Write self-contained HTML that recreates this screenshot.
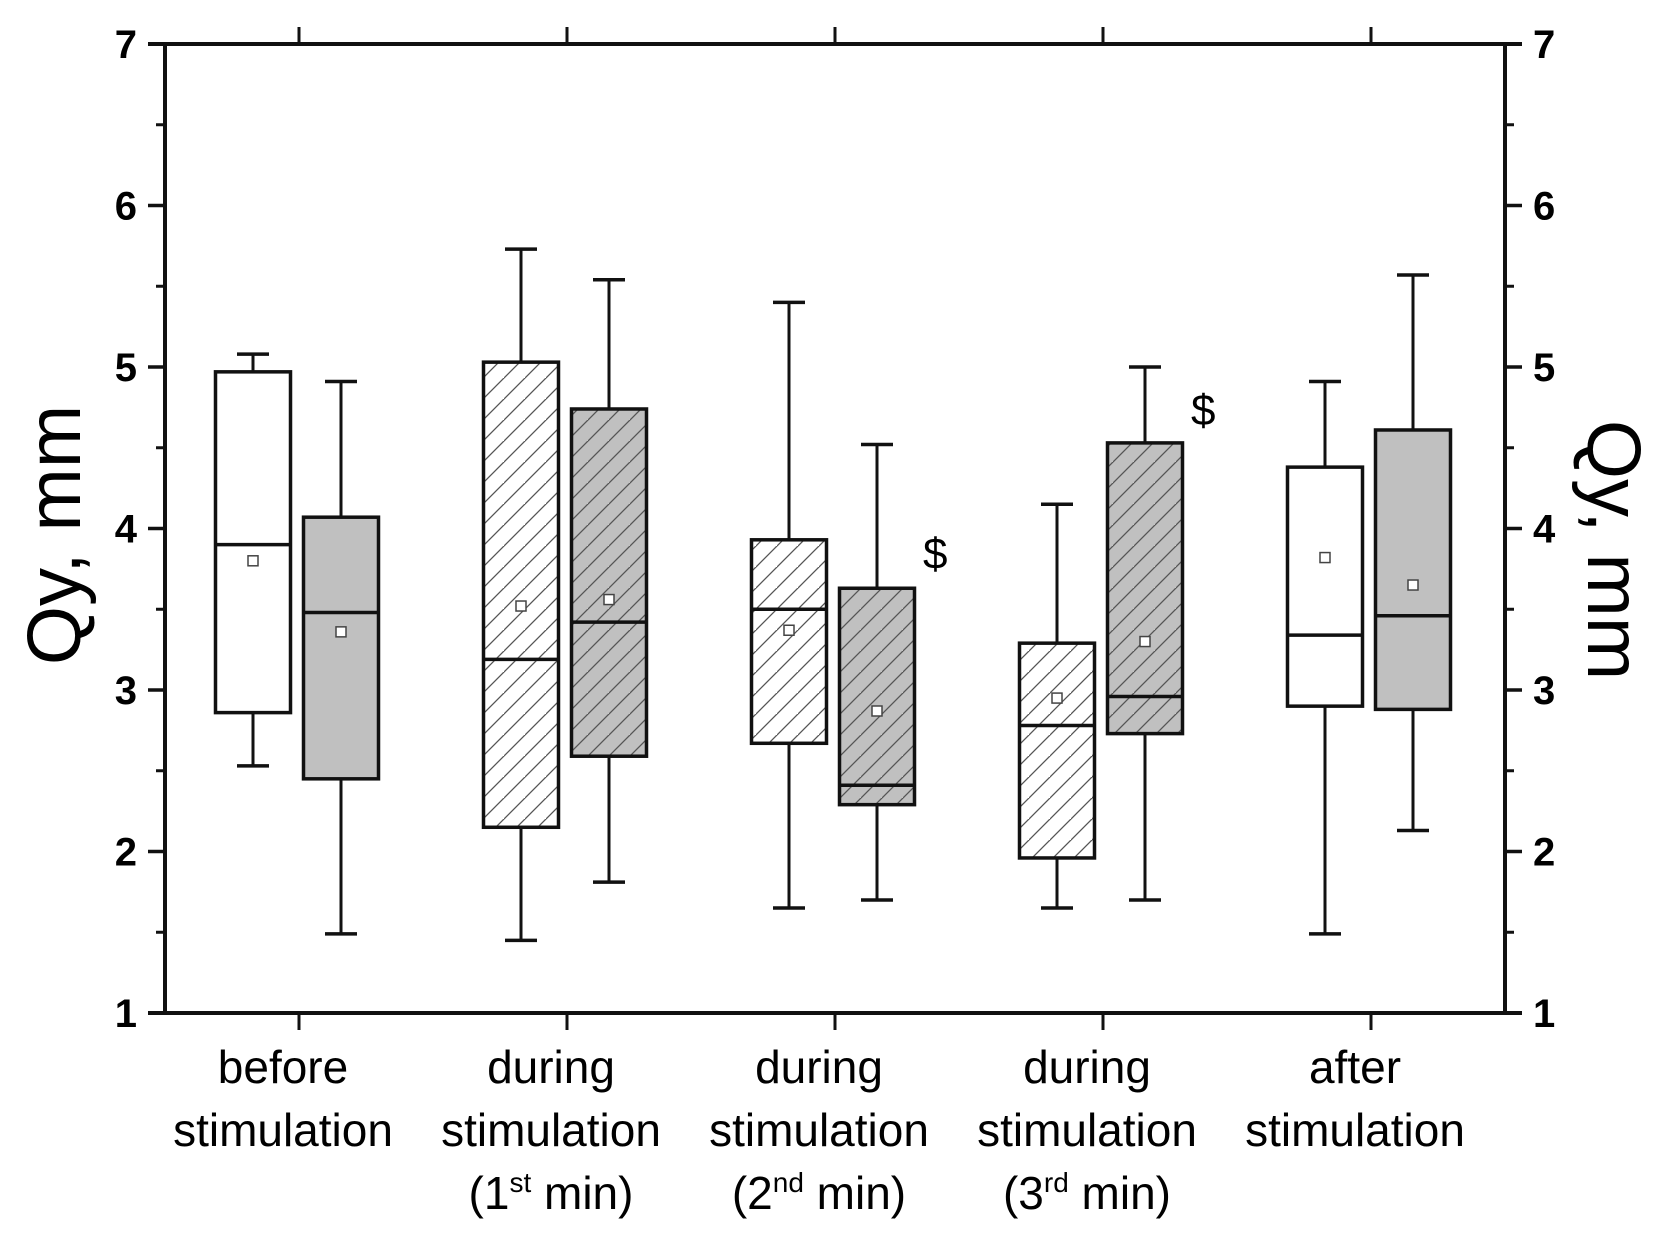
<!DOCTYPE html>
<html><head><meta charset="utf-8"><style>
html,body{margin:0;padding:0;background:#fff;}
svg{display:block;font-family:"Liberation Sans",sans-serif;}
</style></head><body>
<svg id="chart" width="1653" height="1241" viewBox="0 0 1653 1241">
<defs>
<pattern id="hatch" patternUnits="userSpaceOnUse" width="21" height="21">
<path d="M-2,23 L23,-2 M-12,12 L12,-12 M10,33 L33,10" stroke="#555" stroke-width="1.3"/>
</pattern>
</defs>
<g id="axes"></g>
<g id="marks"></g>
<text x="0" y="0" transform="translate(80,535) rotate(-90)" text-anchor="middle" font-size="76">Qy, mm</text>
<text x="0" y="0" transform="translate(1588,550) rotate(90)" text-anchor="middle" font-size="76">Qy, mm</text>
</svg>
<script>
const categories = [["before","stimulation"],["during","stimulation","(1|st| min)"],["during","stimulation","(2|nd| min)"],["during","stimulation","(3|rd| min)"],["after","stimulation"]];
const whiskerHigh = [[5.08,4.91],[5.73,5.54],[5.40,4.52],[4.15,5.00],[4.91,5.57]];
const q3Values = [[4.97,4.07],[5.03,4.74],[3.93,3.63],[3.29,4.53],[4.38,4.61]];
const medianValues = [[3.90,3.48],[3.19,3.42],[3.50,2.41],[2.78,2.96],[3.34,3.46]];
const meanValues = [[3.80,3.36],[3.52,3.56],[3.37,2.87],[2.95,3.30],[3.82,3.65]];
const q1Values = [[2.86,2.45],[2.15,2.59],[2.67,2.29],[1.96,2.73],[2.90,2.88]];
const whiskerLow = [[2.53,1.49],[1.45,1.81],[1.65,1.70],[1.65,1.70],[1.49,2.13]];
const hatched = [false,true,true,true,false];
const dollarY = [[null,null],[null,null],[null,3.85],[null,4.74],[null,null]];
const yTicks = [1,2,3,4,5,6,7];

const NS="http://www.w3.org/2000/svg";
const L=165,R=1505,T=44,B=1013;
const y=v=>B-(v-1)*(B-T)/6;
const xc=i=>299+i*268;
const axes=document.getElementById('axes'), marks=document.getElementById('marks');
function el(tag,attrs,parent){const e=document.createElementNS(NS,tag);for(const k in attrs)e.setAttribute(k,attrs[k]);parent.appendChild(e);return e;}
function line(x1,y1,x2,y2,w,parent){return el('line',{x1,y1,x2,y2,stroke:'#111','stroke-width':w},parent);}

let f=line(L-17,T,R+17,T,4,axes);


f=line(L-17,B,R+17,B,4,axes);


f=line(L,T,L,B,4,axes);


f=line(R,T,R,B,4,axes);



yTicks.forEach(v=>{
  line(L-17,y(v),L,y(v),3.5,axes);line(R,y(v),R+17,y(v),3.5,axes);
  if(v<7){line(L-9,y(v+0.5),L,y(v+0.5),3,axes);line(R,y(v+0.5),R+9,y(v+0.5),3,axes);}
  let t=el('text',{x:L-28,y:y(v)+14,'text-anchor':'end','font-size':40,'font-weight':'bold'},axes);t.textContent=v;
  
  
  t=el('text',{x:R+28,y:y(v)+14,'text-anchor':'start','font-size':40,'font-weight':'bold'},axes);t.textContent=v;
  
  
});

categories.forEach((lines,i)=>{
  const cx=xc(i);
  line(cx,T-17,cx,T,3,axes);line(cx,B,cx,B+17,3,axes);
  const g=el('g',{},axes);
  
  
  lines.forEach((s,k)=>{
    const t=el('text',{x:cx-16,y:1083+k*63,'text-anchor':'middle','font-size':46},g);
    if(s.includes('|')){const p=s.split('|');t.appendChild(document.createTextNode(p[0]));
      const sp=el('tspan',{'font-size':28,dy:-17},t);sp.textContent=p[1];
      const sp2=el('tspan',{dy:17},t);sp2.textContent=p[2];}
    else t.textContent=s;
  });
});

const offs=[-46,42], BW=75, CW=32;
categories.forEach((c,i)=>{
  [0,1].forEach(j=>{
    const cx=xc(i)+offs[j];
    const g=el('g',{},marks);
    
    
    const hi=whiskerHigh[i][j],q3=q3Values[i][j],md=medianValues[i][j],mn=meanValues[i][j],q1=q1Values[i][j],lo=whiskerLow[i][j];
    line(cx,y(hi),cx,y(q3),3,g);line(cx,y(q1),cx,y(lo),3,g);
    line(cx-CW/2,y(hi),cx+CW/2,y(hi),3.5,g);line(cx-CW/2,y(lo),cx+CW/2,y(lo),3.5,g);
    el('rect',{x:cx-BW/2,y:y(q3),width:BW,height:y(q1)-y(q3),fill:j?'#c0c0c0':'#fff'},g);
    if(hatched[i]) el('rect',{x:cx-BW/2,y:y(q3),width:BW,height:y(q1)-y(q3),fill:'url(#hatch)'},g);
    el('rect',{x:cx-BW/2,y:y(q3),width:BW,height:y(q1)-y(q3),fill:'none',stroke:'#111','stroke-width':3.5},g);
    line(cx-BW/2,y(md),cx+BW/2,y(md),3.5,g);
    el('rect',{x:cx-5,y:y(mn)-5,width:10,height:10,fill:'#fff',stroke:'#444','stroke-width':1.5},g);
    if(dollarY[i][j]!==null){const t=el('text',{x:cx+46,y:y(dollarY[i][j])+16,'font-size':44},g);t.textContent='$';
      
      }
  });
});
</script>
</body></html>
